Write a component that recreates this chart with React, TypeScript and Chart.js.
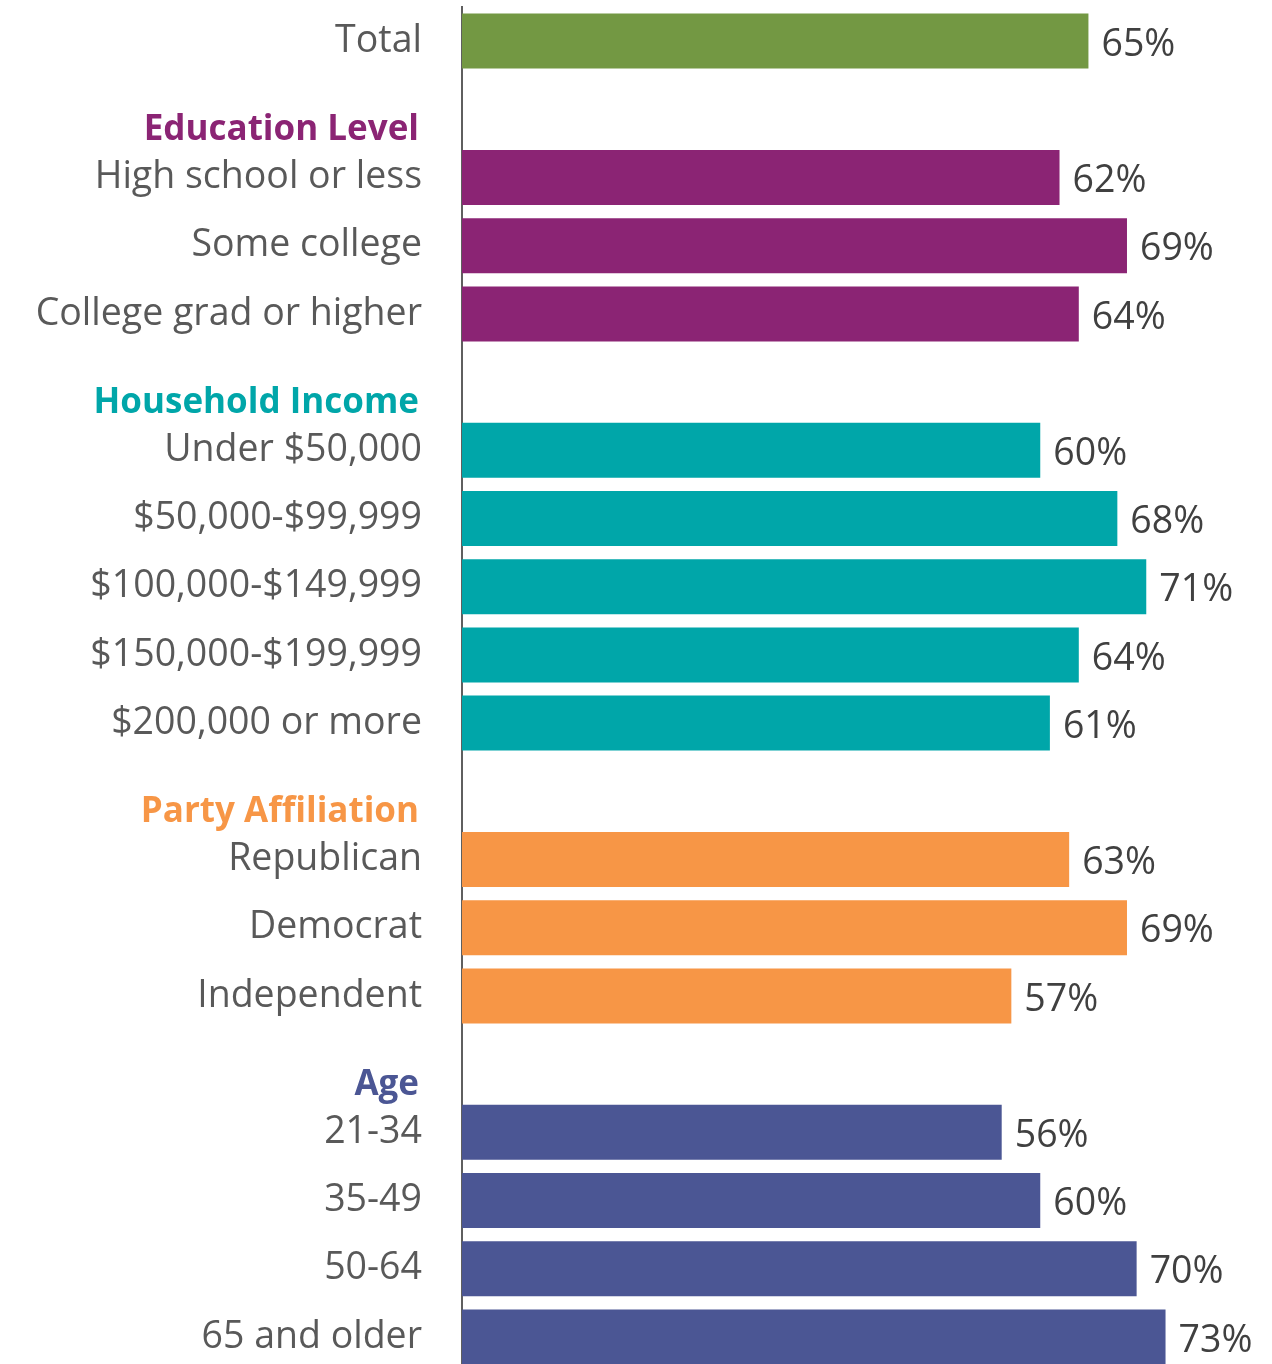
import React, { useEffect, useRef } from "react";
import { Chart, registerables } from "chart.js";

Chart.register(...registerables);

const totalLabels = ["Total"];
const totalValues = [65];
const educationLabels = ["High school or less", "Some college", "College grad or higher"];
const educationValues = [62, 69, 64];
const incomeLabels = ["Under $50,000", "$50,000-$99,999", "$100,000-$149,999", "$150,000-$199,999", "$200,000 or more"];
const incomeValues = [60, 68, 71, 64, 61];
const partyLabels = ["Republican", "Democrat", "Independent"];
const partyValues = [63, 69, 57];
const ageLabels = ["21-34", "35-49", "50-64", "65 and older"];
const ageValues = [56, 60, 70, 73];
const groupTitles = ["Education Level", "Household Income", "Party Affiliation", "Age"];

const COLOR_TOTAL = "#739843";
const COLOR_EDU = "#8B2474";
const COLOR_INC = "#00A6A9";
const COLOR_PARTY = "#F79646";
const COLOR_AGE = "#4B5694";

type Row = { label: string; value: number | null; color: string; header: boolean };

function buildRows(): Row[] {
  const rows: Row[] = [];
  totalLabels.forEach((l, i) => rows.push({ label: l, value: totalValues[i], color: COLOR_TOTAL, header: false }));
  const groups: [string[], number[], string][] = [
    [educationLabels, educationValues, COLOR_EDU],
    [incomeLabels, incomeValues, COLOR_INC],
    [partyLabels, partyValues, COLOR_PARTY],
    [ageLabels, ageValues, COLOR_AGE],
  ];
  groups.forEach(([labels, values, color], gi) => {
    rows.push({ label: groupTitles[gi], value: null, color, header: true });
    labels.forEach((l, i) => rows.push({ label: l, value: values[i], color, header: false }));
  });
  return rows;
}

const FONT = "'Open Sans', 'Noto Sans', sans-serif";

export default function App() {
  const ref = useRef<HTMLCanvasElement | null>(null);

  useEffect(() => {
    const canvas = ref.current;
    if (!canvas) return;
    const rows = buildRows();

    const overlay = {
      id: "overlay",
      afterDatasetsDraw(chart: any) {
        const ctx = chart.ctx;
        const meta = chart.getDatasetMeta(0);
        ctx.save();
        ctx.font = `37.5px ${FONT}`;
        ctx.fillStyle = "#404040";
        ctx.textAlign = "left";
        ctx.textBaseline = "middle";
        meta.data.forEach((bar: any, i: number) => {
          const v = rows[i].value;
          if (v == null) return;
          ctx.fillText(`${v}%`, bar.x + 13, bar.y + 4);
        });
        // group headers
        const yScale = chart.scales.y;
        const pitch = yScale.getPixelForValue(1) - yScale.getPixelForValue(0);
        ctx.font = `bold 35px ${FONT}`;
        ctx.textAlign = "right";
        rows.forEach((r, i) => {
          if (!r.header) return;
          ctx.fillStyle = r.color;
          ctx.fillText(r.label, chart.chartArea.left - 43, yScale.getPixelForValue(i) + pitch * 0.3);
        });
        ctx.restore();
      },
    };

    const chart = new Chart(canvas, {
      type: "bar",
      data: {
        labels: rows.map((r) => r.label),
        datasets: [
          {
            data: rows.map((r) => r.value),
            backgroundColor: rows.map((r) => r.color),
            borderWidth: 0,
            barPercentage: 0.806,
            categoryPercentage: 1,
          },
        ],
      },
      options: {
        indexAxis: "y",
        animation: false,
        responsive: false,
        layout: { padding: { top: 7, bottom: 9, left: 0, right: 39 } },
        plugins: { legend: { display: false }, tooltip: { enabled: false } },
        scales: {
          x: { display: false, min: 0, max: 80 },
          y: {
            afterFit(scale: any) {
              scale.width = 462;
              scale.paddingTop = 0;
              scale.paddingBottom = 0;
            },
            grid: { display: false, drawTicks: false },
            border: { display: true, color: "#5F5F5F", width: 2 },
            ticks: {
              padding: 40,
              autoSkip: false,
              color: "#595959",
              font: { family: FONT, size: 37.5 },
              callback: (_v: any, i: number) => (rows[i].header ? "" : rows[i].label),
            },
          },
        },
      },
      plugins: [overlay],
    });
    return () => chart.destroy();
  }, []);

  return (
    <div style={{ position: "absolute", left: 0, top: 0, width: 1272, height: 1364, overflow: "hidden", background: "#fff" }}>
      <canvas ref={ref} width={1272} height={1380} style={{ display: "block" }} />
    </div>
  );
}
